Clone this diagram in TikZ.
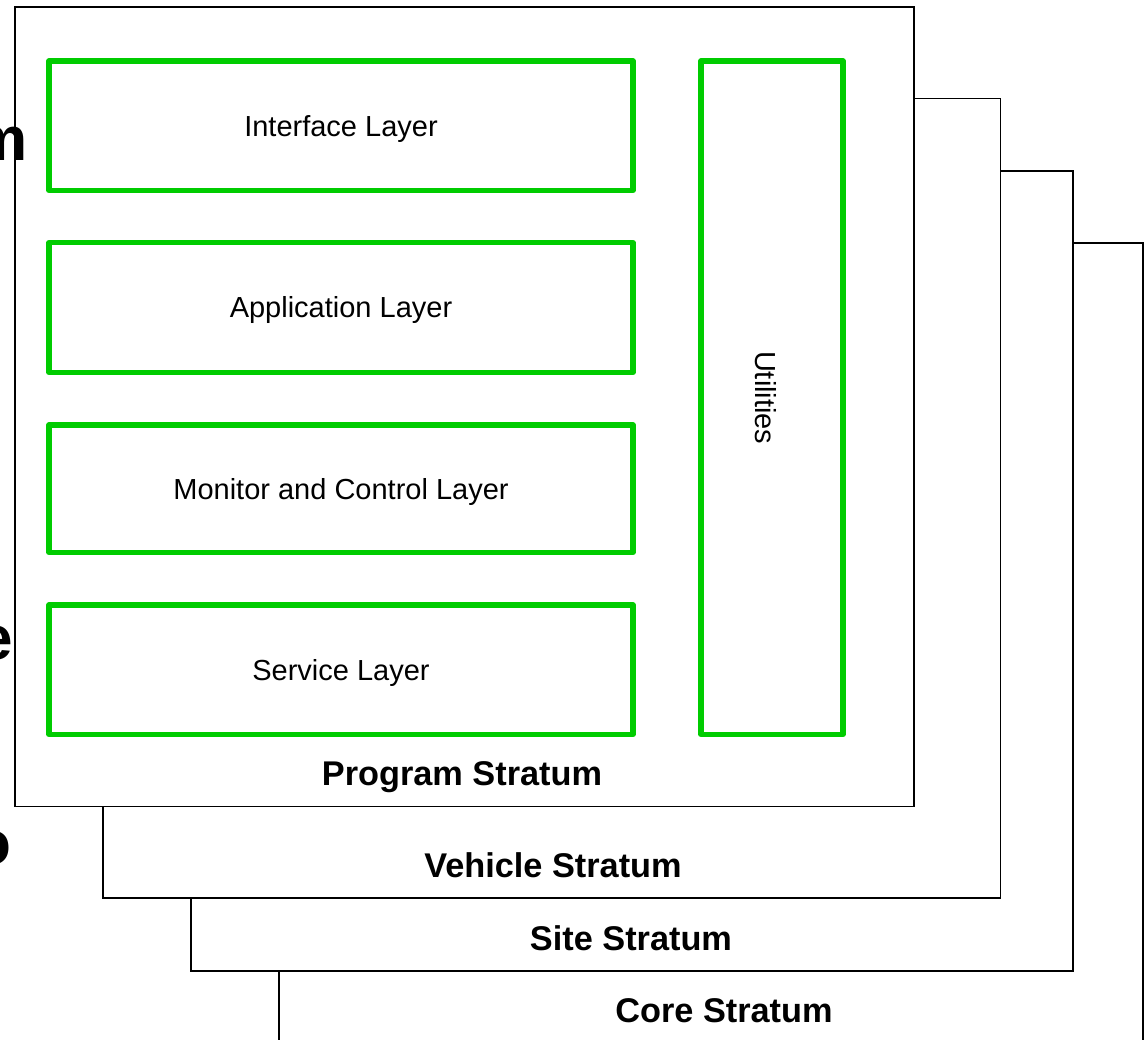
\documentclass[tikz,border=0pt]{standalone}
\usepackage{fontspec}
\setmainfont{Liberation Sans}
\definecolor{lgreen}{RGB}{0,204,0}
\begin{document}
\begin{tikzpicture}[x=1pt,y=-1pt,
  stratum/.style={draw=black, line width=1.9pt, fill=white, inner sep=0pt, outer sep=0pt},
  layer/.style={draw=lgreen, line width=5.3pt, line join=round, fill=white, inner sep=0pt, outer sep=0pt,
    font=\fontsize{29}{34}\selectfont, text height=20.8pt, text depth=0pt, align=center},
  stlabel/.style={font=\fontsize{34.3}{40}\selectfont\bfseries, anchor=base, inner sep=0pt},
  cutletter/.style={font=\fontsize{62}{70}\selectfont\bfseries, anchor=base east, inner sep=0pt}]
\useasboundingbox (0,0) rectangle (1145,1039);
\clip (0,0) rectangle (1145,1039);
% strata, back to front
\node[stratum, minimum width=863.7pt, minimum height=800pt] (core) at (710.85,642.7) {};
\node[stratum, minimum width=881.7pt, minimum height=800pt] (site) at (631.85,570.7) {};
\node[stratum, minimum width=897.5pt, minimum height=799.5pt] (vehicle) at (551.75,498.25) {};
\node[stratum, minimum width=899.3pt, minimum height=799.8pt] (program) at (464.35,406.6) {};
% layers
\node[layer, minimum width=584pt, minimum height=129.5pt] (interface) at (341,125.75) {Interface Layer};
\node[layer, minimum width=584pt, minimum height=130pt] (application) at (341,307.5) {Application Layer};
\node[layer, minimum width=584pt, minimum height=127.5pt] (monitor) at (341,488.75) {Monitor and Control Layer};
\node[layer, minimum width=584pt, minimum height=129.5pt] (service) at (341,669.75) {Service Layer};
\node[layer, minimum width=142pt, minimum height=673.5pt] (utilities) at (772,397.75) {};
\node[rotate=-90, inner sep=0pt, font=\fontsize{29}{34}\selectfont, text height=20.8pt, text depth=0pt] (utilitieslabel) at ([xshift=-6pt]utilities.center) {Utilities};
% stratum labels
\node[stlabel] (programlabel) at (462,785) {Program Stratum};
\node[stlabel] (vehiclelabel) at (553,877) {Vehicle Stratum};
\node[stlabel] (sitelabel) at (631,950) {Site Stratum};
\node[stlabel] (corelabel) at (724,1022) {Core Stratum};
% partly hidden letters at the left edge
\node[cutletter] (cutm) at (28,160) {m};
\node[cutletter] (cute) at (13,659) {e};
\node[cutletter] (cuto) at (12,864) {o};
\end{tikzpicture}
\end{document}
